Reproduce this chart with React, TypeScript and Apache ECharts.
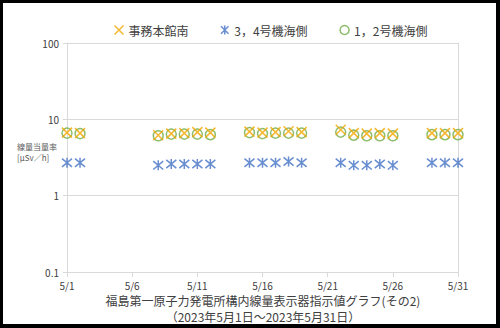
import React, { useEffect, useRef } from "react";
import * as echarts from "echarts";

const days = [1, 2, 8, 9, 10, 11, 12, 15, 16, 17, 18, 19, 22, 23, 24, 25, 26, 29, 30, 31];
const mainBuildingSouth = [6.7, 6.6, 6.2, 6.5, 6.6, 6.8, 6.7, 6.9, 6.7, 6.8, 7.0, 6.8, 7.3, 6.6, 6.5, 6.6, 6.5, 6.6, 6.6, 6.6];
const unit34Sea = [2.7, 2.7, 2.5, 2.6, 2.6, 2.6, 2.6, 2.7, 2.7, 2.7, 2.8, 2.7, 2.7, 2.5, 2.5, 2.6, 2.5, 2.7, 2.7, 2.7];
const unit12Sea = [6.6, 6.5, 6.1, 6.4, 6.4, 6.4, 6.3, 6.7, 6.5, 6.6, 6.6, 6.6, 6.8, 6.2, 6.1, 6.1, 6.1, 6.3, 6.3, 6.3];
const seriesNames = ["事務本館南", "3，4号機海側", "1，2号機海側"];
const yTicks = [0.1, 1, 10, 100];
const titleLines = ["福島第一原子力発電所構内線量表示器指示値グラフ(その2)", "（2023年5月1日～2023年5月31日）"];
const yAxisName = "線量当量率\n[μSv／h]";

const FONT = "'Noto Sans CJK JP', 'Noto Sans', sans-serif";
const ORANGE = "#F2A600";
const BLUE = "#4472C4";
const GREEN = "#70AD47";
const X_PATH = "path://M0,0L10,10M10,0L0,10";
const STAR_PATH = "path://M0,0L10,10M10,0L0,10M5,-1L5,11";

export default function App() {
  const ref = useRef<HTMLDivElement>(null);
  useEffect(() => {
    if (!ref.current) return;
    const chart = echarts.init(ref.current, undefined, { renderer: "svg" });
    const toPts = (vals: number[]) => days.map((d, i) => [d - 1, vals[i]]);
    const titleStyle = { fontSize: 12, fontWeight: "normal", color: "#404040", fontFamily: FONT, lineHeight: 14 };
    chart.setOption({
      animation: false,
      backgroundColor: "#fff",
      textStyle: { fontFamily: FONT },
      legend: {
        top: 18,
        left: 107,
        itemGap: 30,
        itemWidth: 9,
        itemHeight: 9,
        textStyle: { fontSize: 12, color: "#404040", fontFamily: FONT },
        data: [
          { name: seriesNames[0], icon: X_PATH, itemStyle: { color: "none", borderColor: ORANGE, borderWidth: 1.5 } },
          { name: seriesNames[1], icon: STAR_PATH, itemStyle: { color: "none", borderColor: BLUE, borderWidth: 1.5 } },
          { name: seriesNames[2], icon: "circle", itemStyle: { color: "none", borderColor: GREEN, borderWidth: 1.5 } },
        ],
      },
      title: [
        { text: titleLines[0], left: 263, textAlign: "center", top: 293, padding: 0, textStyle: titleStyle },
        { text: titleLines[1], left: 263, textAlign: "center", top: 309, padding: 0, textStyle: titleStyle },
      ],
      graphic: [
        {
          type: "text",
          left: 17,
          top: 141,
          style: { text: yAxisName, fontSize: 8, fill: "#595959", fontFamily: FONT, lineHeight: 11, align: "left" },
        },
      ],
      grid: { left: 67, right: 42, top: 43, bottom: 56 },
      xAxis: {
        type: "value",
        min: 0,
        max: 30,
        interval: 5,
        axisLine: { show: true, lineStyle: { color: "#d9d9d9" } },
        axisTick: { show: true, length: 5, lineStyle: { color: "#d9d9d9" } },
        splitLine: { show: false },
        axisLabel: { formatter: (v: number) => `5/${v + 1}`, fontSize: 10, lineHeight: 12, color: "#404040", margin: 7, fontFamily: FONT },
      },
      yAxis: [
        {
          type: "log",
          logBase: 10,
          min: yTicks[0],
          max: yTicks[yTicks.length - 1],
          axisLine: { show: true, lineStyle: { color: "#d9d9d9" } },
          axisTick: { show: true, length: 4, lineStyle: { color: "#d9d9d9" } },
          splitLine: { show: true, lineStyle: { color: "#d9d9d9" } },
          axisLabel: { formatter: (v: number) => String(Math.round(v * 10) / 10), fontSize: 10, color: "#404040", margin: 8, fontFamily: FONT },
        },
        {
          type: "log",
          logBase: 10,
          min: yTicks[0],
          max: yTicks[yTicks.length - 1],
          position: "right",
          axisLine: { show: true, lineStyle: { color: "#d9d9d9" } },
          axisTick: { show: false },
          splitLine: { show: false },
          axisLabel: { show: false },
        },
      ],
      series: [
        {
          name: seriesNames[2],
          type: "scatter",
          data: toPts(unit12Sea),
          symbol: "circle",
          symbolSize: 10,
          z: 2,
          itemStyle: { color: "rgba(0,0,0,0)", borderColor: GREEN, borderWidth: 1.5 },
        },
        {
          name: seriesNames[1],
          type: "scatter",
          data: toPts(unit34Sea),
          symbol: STAR_PATH,
          symbolSize: 10,
          z: 3,
          itemStyle: { color: "none", borderColor: BLUE, borderWidth: 1.5 },
        },
        {
          name: seriesNames[0],
          type: "scatter",
          data: toPts(mainBuildingSouth),
          symbol: X_PATH,
          symbolSize: 10,
          z: 4,
          itemStyle: { color: "none", borderColor: ORANGE, borderWidth: 1.5 },
        },
      ],
    });
    return () => chart.dispose();
  }, []);
  return (
    <div style={{ position: "absolute", left: 0, top: 0, width: 500, height: 328 }}>
      <div ref={ref} style={{ position: "absolute", left: 0, top: 0, width: 500, height: 328 }} />
      <div
        style={{
          position: "absolute",
          left: 0,
          top: 0,
          width: 500,
          height: 328,
          boxSizing: "border-box",
          borderStyle: "solid",
          borderColor: "#000",
          borderWidth: "3px 4px 4px 3px",
          pointerEvents: "none",
        }}
      />
    </div>
  );
}
